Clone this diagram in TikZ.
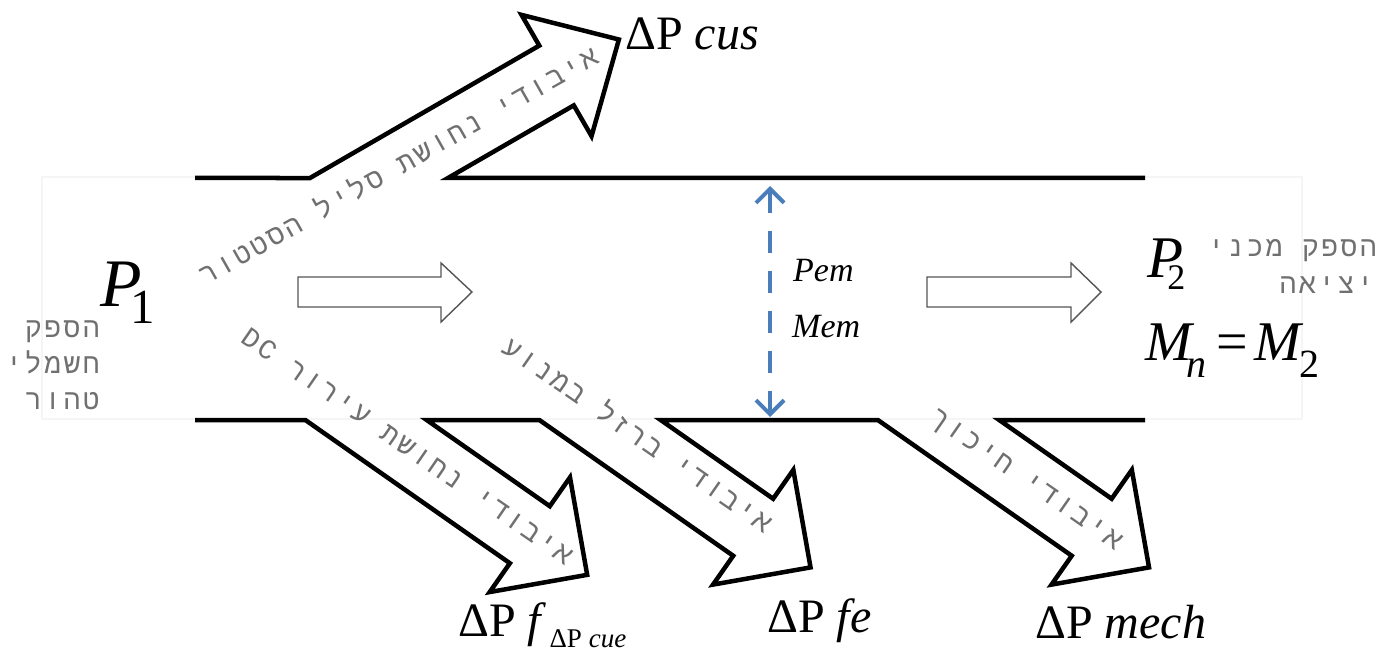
\documentclass[tikz,border=0pt]{standalone}
\usepackage{fontspec}
\setmainfont{Liberation Serif}
\newfontfamily\heb[Script=Hebrew,LetterSpace=9]{Liberation Mono}
\TeXXeTstate=1
\usetikzlibrary{arrows.meta}

\definecolor{flowblue}{RGB}{74,126,187}
\definecolor{notegray}{RGB}{112,112,112}
\definecolor{hollowgray}{RGB}{85,85,85}

% corner points of a loss arrow leaving the lower wall (prefix, x on wall, shaft length)
\newcommand\dropcorners[3]{%
  \begin{scope}[shift={(#2,420)},rotate=-35]
    \coordinate (#1A) at (-49.7,34.8);
    \coordinate (#1B) at (#3,34.8);
    \coordinate (#1C) at (#3,70);
    \coordinate (#1T) at ({#3+70},0);
    \coordinate (#1D) at (#3,-70);
    \coordinate (#1E) at (#3,-34.8);
    \coordinate (#1F) at (49.7,-34.8);
  \end{scope}}

\begin{document}
\begin{tikzpicture}[x=1pt,y=-1pt,
  wall/.style={line width=4.5pt, line join=miter, miter limit=10},
  note/.style={inner sep=0pt, text=notegray, font=\heb\fontsize{28}{28}\selectfont},
  hollow/.style={draw=hollowgray, line width=1.4pt, fill=white, line join=miter},
  emflow/.style={draw=flowblue, line width=4pt, dash pattern=on 22pt off 18pt,
    {Straight Barb[length=14pt,width=28pt]}-{Straight Barb[length=14pt,width=28pt]}},
  lbl/.style={inner sep=0pt, anchor=base west},
  big/.style={font=\fontsize{48}{48}\selectfont},
]
\useasboundingbox (0,0) rectangle (1394,652);

% faint frame of the machine
\draw[black!4, line width=1.5pt] (42,177) rectangle (1302,419);

% walls
\coordinate (topL) at (195,178);
\coordinate (topR) at (1145,178);
\coordinate (botL) at (195,420);
\coordinate (botR) at (1145,420);

% stator copper loss arrow (upwards)
\begin{scope}[shift={(379,178)},rotate=30]
  \coordinate (cusA) at (-59.76,-34.5);
  \coordinate (cusB) at (205,-34.5);
  \coordinate (cusC) at (205,-70);
  \coordinate (cusT) at (277,0);
  \coordinate (cusD) at (205,70);
  \coordinate (cusE) at (205,34.5);
  \coordinate (cusF) at (59.76,34.5);
\end{scope}

\dropcorners{cue}{366}{200}
\dropcorners{fe}{600}{187}
\dropcorners{me}{938.5}{187}

\fill[white] (cusA)--(cusB)--(cusC)--(cusT)--(cusD)--(cusE)--(cusF)--cycle;
\foreach \p in {cue,fe,me}
  \fill[white] (\p A)--(\p B)--(\p C)--(\p T)--(\p D)--(\p E)--(\p F)--cycle;

\draw[wall] (topL)--(cusA)--(cusB)--(cusC)--(cusT)--(cusD)--(cusE)--(cusF)--(topR);
\draw[wall] (botL)--(cueA)--(cueB)--(cueC)--(cueT)--(cueD)--(cueE)--(cueF)
  --(feA)--(feB)--(feC)--(feT)--(feD)--(feE)--(feF)
  --(meA)--(meB)--(meC)--(meT)--(meD)--(meE)--(meF)--(botR);

% power flow arrows
\draw[hollow] (298,277)--(441,277)--(441,263)--(472,292)--(441,322)--(441,307)--(298,307)--cycle;
\draw[hollow] (927,277)--(1071,277)--(1071,263)--(1101,292)--(1071,322)--(1071,307)--(927,307)--cycle;

% air gap power
\coordinate (emTop) at (770,186);
\coordinate (emBot) at (770,417);
\draw[emflow] (emTop) -- (emBot);
\node[lbl, font=\fontsize{34}{34}\selectfont\itshape] (pem) at (793,282) {Pem};
\node[lbl, font=\fontsize{34}{34}\selectfont\itshape] (mem) at (792,337) {Mem};

% texts along the loss arrows
\node[note, rotate=29.5, anchor=mid] (cusText) at (402,172) {\beginR איבודי נחושת סליל הסטטור\endR};
\node[note, rotate=-34.6, anchor=mid] (cueText) at (404,452) {\beginR איבודי נחושת עירור \beginL DC\endL\endR};
\node[note, rotate=-34.8, anchor=mid] (feText) at (634,441) {\beginR איבודי ברזל במנוע\endR};
\node[note, rotate=-34.8, anchor=mid] (meText) at (1023,484) {\beginR איבודי חיכוך\endR};

% input side
\node[lbl] (p1) at (100,306) {{\fontsize{68}{68}\selectfont\itshape P}\kern-11pt\raisebox{-17pt}{\fontsize{49}{49}\selectfont 1}};
\node[note, anchor=base east] (inA) at (100,337) {\beginR הספק\endR};
\node[note, anchor=base east] (inB) at (100,373) {\beginR חשמלי\endR};
\node[note, anchor=base east] (inC) at (100,409) {\beginR טהור\endR};

% output side
\node[lbl] (p2) at (1147,277) {{\fontsize{59}{59}\selectfont\itshape P}\kern-16pt\raisebox{-13pt}{\fontsize{36}{36}\selectfont 2}};
\node[note, anchor=base east] (outA) at (1377,257) {\beginR הספק מכני\endR};
\node[note, anchor=base east] (outB) at (1374,293) {\beginR יציאה\endR};
\node[lbl] (mn) at (1145,360) {{\fontsize{56}{56}\selectfont\itshape M}\kern-5pt\raisebox{-17pt}{\fontsize{40}{40}\selectfont\itshape n}\kern10pt{\fontsize{56}{56}\selectfont =}\kern6pt{\fontsize{56}{56}\selectfont\itshape M}\kern-2pt\raisebox{-17pt}{\fontsize{40}{40}\selectfont 2}};

% loss labels
\node[lbl, big] (lcus) at (625,50) {ΔP \textit{cus}};
\node[lbl, big] (lcue) at (458,636) {ΔP \textit{f}\kern3pt\raisebox{-11pt}{\fontsize{27}{27}\selectfont ΔP \textit{cue}}};
\node[lbl, big] (lfe) at (767,632) {ΔP \textit{fe}};
\node[lbl, big] (lme) at (1035,638) {ΔP \textit{mech}};
\end{tikzpicture}
\end{document}
